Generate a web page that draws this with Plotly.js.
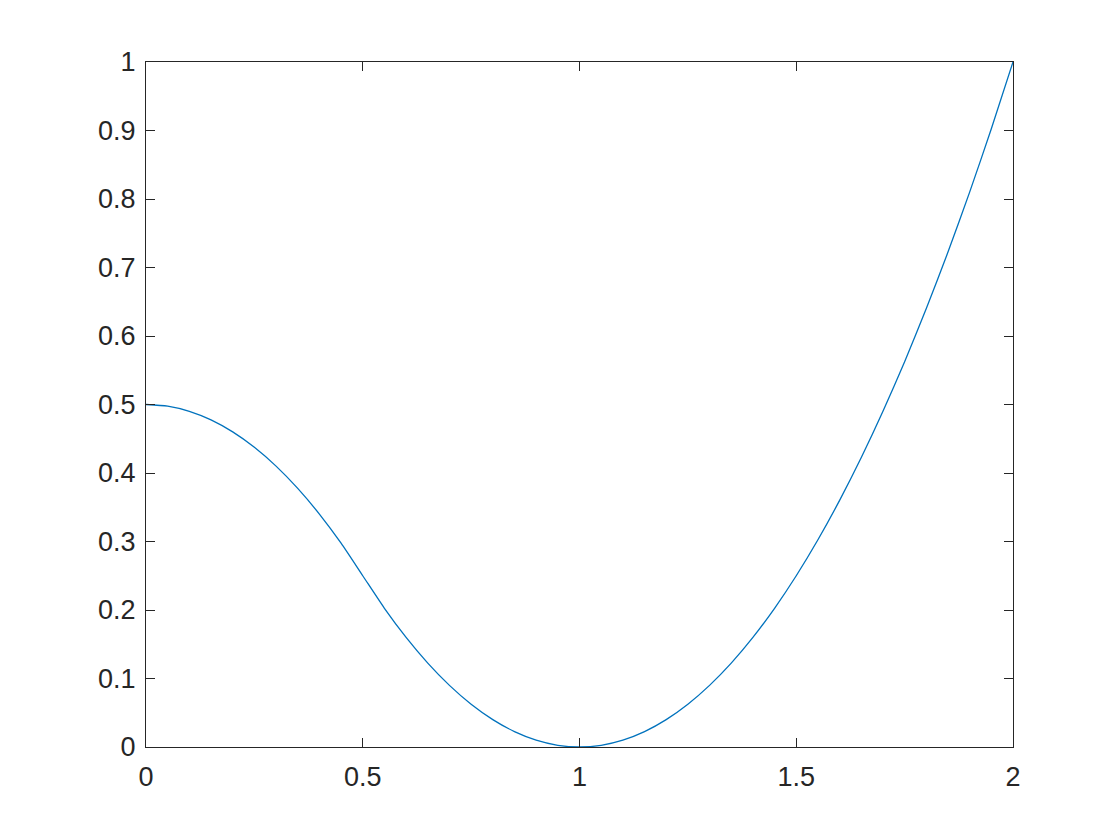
<!DOCTYPE html>
<html>
<head>
<meta charset="utf-8">
<script src="https://cdn.plot.ly/plotly-3.0.1.min.js"></script>
<style>
  html, body { margin: 0; padding: 0; background: #fff; }
  #plot { width: 1120px; height: 840px; }
</style>
</head>
<body>
<div id="plot"></div>
<script>
let xs = [0, 0.05, 0.1, 0.15, 0.2, 0.25, 0.3, 0.35, 0.4, 0.45,
          0.5, 0.55, 0.6, 0.65, 0.7, 0.75, 0.8, 0.85, 0.9, 0.95,
          1.0, 1.05, 1.1, 1.15, 1.2, 1.25, 1.3, 1.35, 1.4, 1.45,
          1.5, 1.55, 1.6, 1.65, 1.7, 1.75, 1.8, 1.85, 1.9, 1.95, 2.0];
// y values read at those x positions
let ys = [0.5, 0.4975, 0.49, 0.4775, 0.46, 0.4375, 0.41, 0.3775, 0.34, 0.2975,
          0.25, 0.2025, 0.16, 0.1225, 0.09, 0.0625, 0.04, 0.0225, 0.01, 0.0025,
          0, 0.0025, 0.01, 0.0225, 0.04, 0.0625, 0.09, 0.1225, 0.16, 0.2025,
          0.25, 0.3025, 0.36, 0.4225, 0.49, 0.5625, 0.64, 0.7225, 0.81, 0.9025, 1];

let xTicks = [0, 0.5, 1, 1.5, 2];
let xTickText = ["0", "0.5", "1", "1.5", "2"];
let yTicks = [0, 0.1, 0.2, 0.3, 0.4, 0.5, 0.6, 0.7, 0.8, 0.9, 1];
let yTickText = ["0", "0.1", "0.2", "0.3", "0.4", "0.5", "0.6", "0.7", "0.8", "0.9", "1"];

// Trace for the curve
let trace1 = {
  x: xs,
  y: ys,
  type: "scatter",
  mode: "lines",
  line: { color: "#0072BD", width: 1.3, shape: "spline", smoothing: 0.6 },
  hoverinfo: "skip"
};

let axisStyle = {
  showline: true,
  linecolor: "#262626",
  linewidth: 1,
  mirror: "ticks",
  ticks: "inside",
  ticklen: 9,
  tickwidth: 1,
  tickcolor: "#262626",
  showgrid: false,
  zeroline: false,
  tickfont: { family: "Liberation Sans, Arial, sans-serif", size: 27, color: "#262626" }
};

let layout = {
  width: 1120,
  height: 840,
  paper_bgcolor: "#ffffff",
  plot_bgcolor: "#ffffff",
  showlegend: false,
  margin: { l: 146, r: 107, t: 62, b: 93 },
  xaxis: Object.assign({}, axisStyle, {
    range: [0, 2],
    tickmode: "array",
    tickvals: xTicks,
    ticktext: xTickText,
    ticklabelstandoff: 6
  }),
  yaxis: Object.assign({}, axisStyle, {
    range: [0, 1],
    tickmode: "array",
    tickvals: yTicks,
    ticktext: yTickText,
    ticklabelstandoff: 4
  })
};

// Render the plot
Plotly.newPlot("plot", [trace1], layout, { staticPlot: true, displayModeBar: false });
</script>
</body>
</html>
